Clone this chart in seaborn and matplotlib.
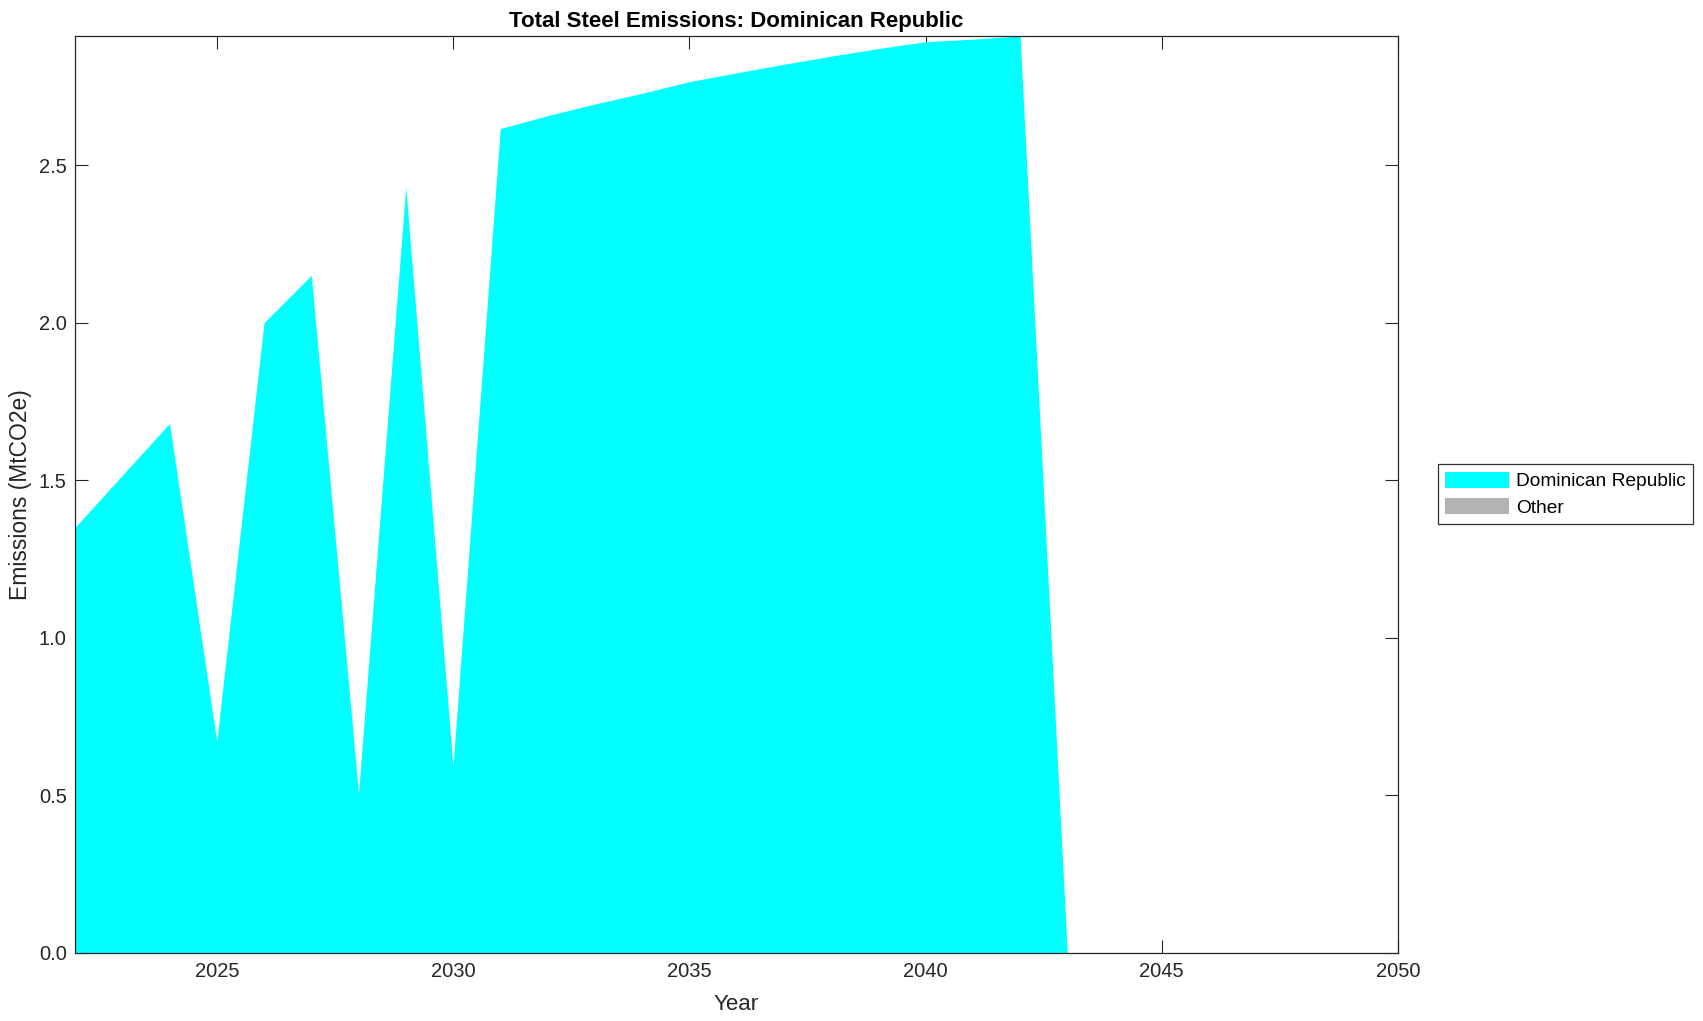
import numpy as np
import pandas as pd
import matplotlib
matplotlib.use("Agg")
import matplotlib.pyplot as plt
import seaborn as sns

# Données
years = list(range(2022, 2051))
dominican_republic = [
    1.350, 1.515, 1.680, 0.670, 2.000, 2.150, 0.506, 2.431, 0.591, 2.616,
    2.657, 2.694, 2.728, 2.765, 2.793, 2.820, 2.846, 2.870, 2.892, 2.900,
    2.910, 0.0, 0.0, 0.0, 0.0, 0.0, 0.0, 0.0, 0.0,
]
other = [0.0] * len(years)

series_labels = ["Dominican Republic", "Other"]
series_colors = ["#00FFFF", "#B3B3B3"]
x_ticks = [2025, 2030, 2035, 2040, 2045, 2050]
y_ticks = [0.0, 0.5, 1.0, 1.5, 2.0, 2.5]

df = pd.DataFrame({"Year": years,
                   "Dominican Republic": dominican_republic,
                   "Other": other})

sns.set_theme(style="white")
plt.rcParams["font.family"] = ["Liberation Sans", "DejaVu Sans"]

text_color = "#262626"

fig = plt.figure(figsize=(17.03, 10.21), dpi=100)
ax = fig.add_axes([75 / 1703, 1 - 952.5 / 1021, 1323 / 1703, 916.5 / 1021])

ax.stackplot(df["Year"], df["Dominican Republic"], df["Other"],
             labels=series_labels, colors=series_colors, linewidth=0)

ymax = df[["Dominican Republic", "Other"]].sum(axis=1).max()
ax.set_xlim(2022, 2050)
ax.set_ylim(0, ymax)
ax.set_xticks(x_ticks)
ax.set_yticks(y_ticks)
ax.set_yticklabels([f"{v:.1f}" for v in y_ticks])

ax.tick_params(axis="both", direction="in", length=9.7, width=0.8,
               color=text_color, labelcolor=text_color, labelsize=14.5,
               top=True, right=True, bottom=True, left=True)
ax.tick_params(axis="x", pad=6.5)
ax.tick_params(axis="y", pad=6)

for spine in ax.spines.values():
    spine.set_visible(True)
    spine.set_color(text_color)
    spine.set_linewidth(0.9)

ax.set_title("Total Steel Emissions: Dominican Republic", fontsize=16,
             fontweight="bold", color="black", pad=6.5)
ax.set_xlabel("Year", fontsize=16, color=text_color, labelpad=9.5)
ax.set_ylabel("Emissions (MtCO2e)", fontsize=16.5, color=text_color, labelpad=5)

leg = ax.legend(loc="center left", bbox_to_anchor=(1.03, 0.5), fontsize=13.8,
                frameon=True, fancybox=False, handlelength=3.3,
                handleheight=0.9, handletextpad=0.37, labelspacing=0.4,
                borderpad=0.4, borderaxespad=0)
leg.get_frame().set_edgecolor("black")
leg.get_frame().set_linewidth(0.9)
for t in leg.get_texts():
    t.set_color("black")

fig.savefig("out.png", dpi=100)
plt.close(fig)
